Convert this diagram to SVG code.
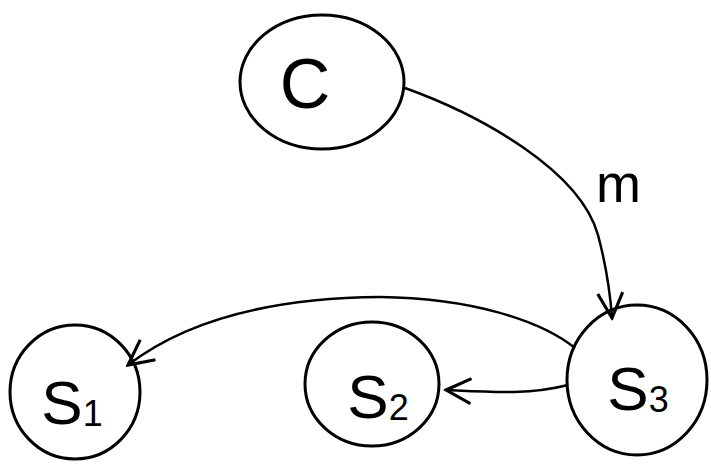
<svg xmlns="http://www.w3.org/2000/svg" width="711" height="475" viewBox="0 0 711 475">
<style>
.n{fill:none;stroke:#000;stroke-width:3}
.e{fill:none;stroke:#000;stroke-width:2.5}
.t{font-family:"Liberation Sans",Arial,sans-serif;fill:#000}
</style>
<defs>
<marker id="a" markerUnits="userSpaceOnUse" markerWidth="30" markerHeight="30" refX="22" refY="12" orient="auto" viewBox="0 0 24 24">
<path d="M2,2 L22,12 L2,22" fill="none" stroke="#000" stroke-width="2.5"/>
</marker>
</defs>
<rect width="711" height="475" fill="#fff"/>
<g id="edges">
<path class="e" d="M405,88 C480,115 580,170 598,235 C606,265 610,290 612,318" marker-end="url(#a)"/>
<path class="e" d="M575,348 C540,320 470,298 380,297 C260,298 180,325 128,365" marker-end="url(#a)"/>
<path class="e" d="M568,385 C530,395 490,392 446,390" marker-end="url(#a)"/>
<text class="t" x="596" y="202" font-size="54">m</text>
</g>
<g id="C">
<ellipse class="n" cx="322" cy="82" rx="82" ry="67"/>
<text class="t" x="305" y="108" font-size="70" text-anchor="middle">C</text>
</g>
<g id="S1">
<ellipse class="n" cx="75" cy="392" rx="65" ry="67"/>
<text class="t" x="72" y="424" font-size="62" text-anchor="middle">S<tspan font-size="36" dy="2">1</tspan></text>
</g>
<g id="S2">
<ellipse class="n" cx="372" cy="384" rx="67" ry="62"/>
<text class="t" x="378" y="418" font-size="62" text-anchor="middle">S<tspan font-size="36" dy="2">2</tspan></text>
</g>
<g id="S3">
<ellipse class="n" cx="637" cy="380" rx="70" ry="75"/>
<text class="t" x="638" y="410" font-size="62" text-anchor="middle">S<tspan font-size="36" dy="2">3</tspan></text>
</g>
</svg>
